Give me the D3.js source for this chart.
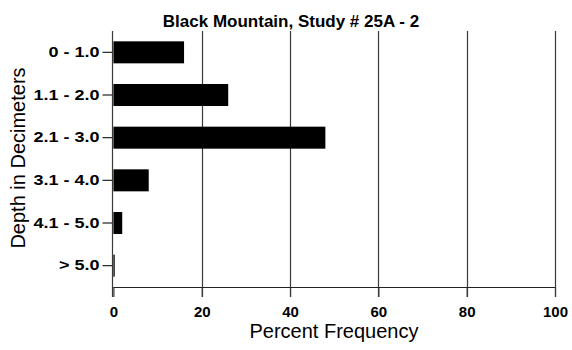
<!DOCTYPE html>
<html>
<head>
<meta charset="utf-8">
<script src="https://cdn.jsdelivr.net/npm/d3@7"></script>
<style>
  html, body { margin: 0; padding: 0; background: #fff; }
  svg { display: block; font-family: "Liberation Sans", Arial, Helvetica, sans-serif; }
</style>
</head>
<body>
<svg id="chart" width="572" height="350"></svg>
<script>
const titleText = "Black Mountain, Study # 25A - 2";
const categories = ["0 - 1.0", "1.1 - 2.0", "2.1 - 3.0", "3.1 - 4.0", "4.1 - 5.0", "> 5.0"];
const percentValues = [16, 26, 48, 8, 2, 0.3];
const xTicks = [0, 20, 40, 60, 80, 100];
const xAxisTitle = "Percent Frequency";
const yAxisTitle = "Depth in Decimeters";

const svg = d3.select("#chart");
const mLeft = 113.4, mRight = 555, mTop = 31, mBottom = 287;

const x = d3.scaleLinear().domain([0, 100]).range([mLeft, mRight]);
const y = d3.scaleBand().domain(categories).range([mTop, mBottom])
  .paddingInner(0.484).paddingOuter(0.242);

// gridlines
svg.append("g").selectAll("line").data(xTicks.filter(d => d > 0)).join("line")
  .attr("x1", d => Math.round(x(d)) + 0.5).attr("x2", d => Math.round(x(d)) + 0.5)
  .attr("y1", mTop).attr("y2", mBottom + 10)
  .attr("stroke", "#3a3a3a").attr("stroke-width", 1.2);

// bars
svg.append("g").selectAll("rect").data(categories).join("rect")
  .attr("x", x(0))
  .attr("y", (d) => y(d))
  .attr("width", (d, i) => x(percentValues[i]) - x(0))
  .attr("height", y.bandwidth())
  .attr("fill", "#000");

// x axis
const xAxis = d3.axisBottom(x).tickValues(xTicks).tickSize(10).tickPadding(9);
const gx = svg.append("g").attr("transform", `translate(0,${mBottom})`).call(xAxis);
gx.select(".domain").remove();
gx.append("line").attr("x1", x(0)).attr("x2", x(100)).attr("y1", 0.5).attr("y2", 0.5)
  .attr("stroke", "#222").attr("stroke-width", 1.2);
gx.selectAll(".tick line").attr("stroke", "#3a3a3a").attr("stroke-width", 1.2);
gx.selectAll(".tick text").attr("font-size", 15).attr("font-weight", "bold")
  .attr("fill", "#000").attr("font-family", "Liberation Sans, Arial, sans-serif");

// y axis
const labelStretch = 1.2;
const yAxis = d3.axisLeft(y).tickSize(10).tickPadding(3);
const gy = svg.append("g").attr("transform", `translate(${Math.round(x(0)) - 0.5},0)`).call(yAxis);
gy.select(".domain").remove();
gy.append("line").attr("x1", 0).attr("x2", 0).attr("y1", mTop).attr("y2", mBottom + 10)
  .attr("stroke", "#3a3a3a").attr("stroke-width", 1.2);
gy.selectAll(".tick line").attr("stroke", "#222").attr("stroke-width", 1.2);
gy.selectAll(".tick text").attr("font-size", 15).attr("font-weight", "bold")
  .attr("x", -13 / labelStretch).attr("transform", `scale(${labelStretch},1)`)
  .attr("fill", "#000").attr("font-family", "Liberation Sans, Arial, sans-serif");

// title
svg.append("text").attr("x", 291).attr("y", 26.5).attr("text-anchor", "middle")
  .attr("font-size", 17).attr("font-weight", "bold").attr("fill", "#000")
  .text(titleText);

// axis titles
svg.append("text").attr("x", 334).attr("y", 338).attr("text-anchor", "middle")
  .attr("font-size", 20).attr("fill", "#000").text(xAxisTitle);

svg.append("text").attr("transform", "translate(25,158) rotate(-90)")
  .attr("text-anchor", "middle").attr("font-size", 20).attr("fill", "#000")
  .text(yAxisTitle);
</script>
</body>
</html>
